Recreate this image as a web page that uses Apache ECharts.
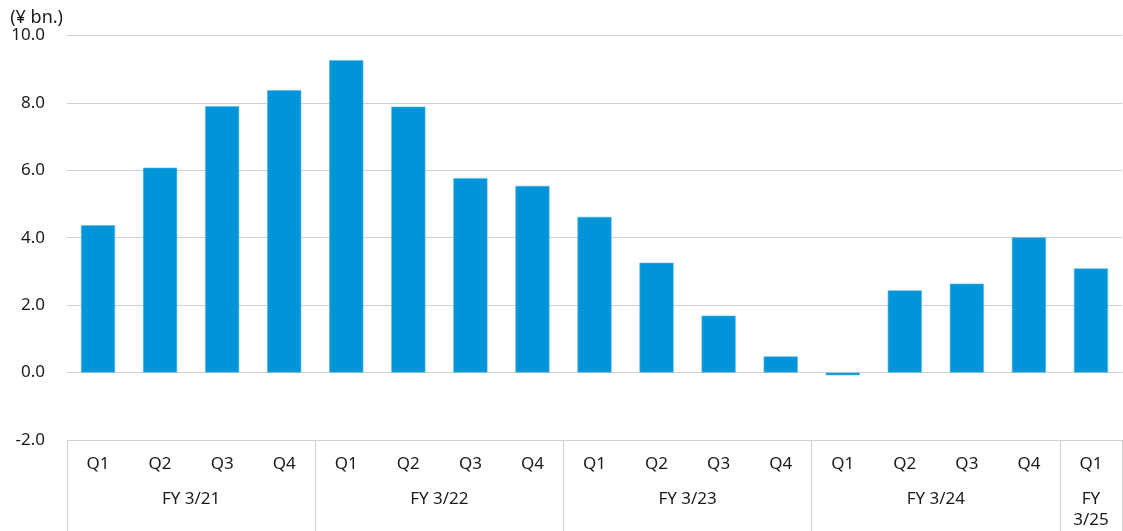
<!DOCTYPE html>
<html>
<head>
<meta charset="utf-8">
<script src="https://cdn.jsdelivr.net/npm/echarts@6/dist/echarts.min.js"></script>
<style>
html,body{margin:0;padding:0;background:#fff;}
#c{width:1123px;height:531px;}
</style>
</head>
<body>
<div id="c"></div>
<script>
const quarters = ['Q1','Q2','Q3','Q4','Q1','Q2','Q3','Q4','Q1','Q2','Q3','Q4','Q1','Q2','Q3','Q4','Q1'];
const values = [4.37, 6.08, 7.90, 8.38, 9.27, 7.89, 5.77, 5.54, 4.62, 3.26, 1.69, 0.48, -0.08, 2.44, 2.64, 4.01, 3.09];
const fiscalYears = ['FY 3/21', 'FY 3/22', 'FY 3/23', 'FY 3/24', 'FY\n3/25'];
const fyCenters = [2, 6, 10, 14, 16.5];
const fyBoundaries = [0, 4, 8, 12, 16, 17];
const yTicks = [-2, 0, 2, 4, 6, 8, 10];
const unitLabel = '(¥ bn.)';

const FONT = '"Noto Sans", sans-serif';
const TEXT = '#1a1a1a';
const GRID = '#cfcfcf';
const FS = 17;

const chart = echarts.init(document.getElementById('c'));
chart.setOption({
  animation: false,
  grid: { left: 67, right: 1, top: 35.5, bottom: 90.3, containLabel: false },
  xAxis: [
    {
      type: 'category',
      data: quarters,
      position: 'bottom',
      axisLine: { show: true, lineStyle: { color: GRID, width: 1 } },
      axisTick: { show: false },
      axisLabel: { interval: 0, margin: 16, fontFamily: FONT, fontSize: FS, color: TEXT }
    },
    {
      type: 'value',
      min: 0,
      max: 17,
      position: 'bottom',
      axisLine: { show: false },
      splitLine: { show: false },
      axisTick: { show: true, customValues: fyBoundaries, length: 92, lineStyle: { color: GRID, width: 1 } },
      axisLabel: {
        customValues: fyCenters,
        margin: 49,
        fontFamily: FONT, fontSize: FS, color: TEXT,
        lineHeight: 21,
        verticalAlign: 'top',
        align: 'center',
        formatter: function (v) {
          const i = fyCenters.indexOf(v);
          return i >= 0 ? fiscalYears[i] : '';
        }
      }
    }
  ],
  yAxis: {
    type: 'value',
    min: yTicks[0],
    max: yTicks[yTicks.length - 1],
    interval: 2,
    name: unitLabel,
    nameLocation: 'end',
    nameGap: 9,
    nameTextStyle: { fontFamily: FONT, fontSize: 18, color: TEXT, align: 'right', padding: [0, 4, 0, 0] },
    axisLine: { show: false },
    axisTick: { show: false },
    axisLabel: { margin: 22, fontFamily: FONT, fontSize: FS, color: TEXT, formatter: v => v.toFixed(1) },
    splitLine: { show: true, lineStyle: { color: GRID, width: 1 } }
  },
  series: [{
    type: 'bar',
    data: values,
    xAxisIndex: 0,
    barWidth: '55%',
    itemStyle: { color: '#0094D8', borderColor: '#5cbbe8', borderWidth: 0.6 }
  }]
});
</script>
</body>
</html>
